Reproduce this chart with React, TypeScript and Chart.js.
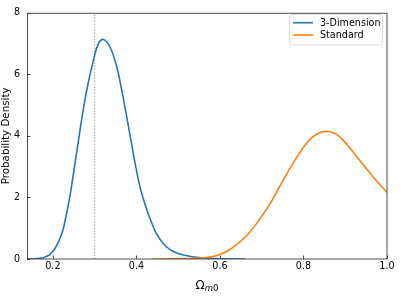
import React, { useEffect, useRef } from "react";
import { Chart, registerables } from "chart.js";

Chart.register(...registerables);

// 3-Dimension series
const blueX = [0.138, 0.155, 0.169, 0.181, 0.193, 0.205, 0.217, 0.225, 0.233, 0.241, 0.249, 0.261, 0.273, 0.285, 0.299, 0.309, 0.321, 0.337, 0.353, 0.362, 0.373, 0.385, 0.397, 0.409, 0.421, 0.433, 0.449, 0.469, 0.492, 0.524, 0.556, 0.59, 0.625, 0.66];
const blueY = [0.0, 0.005, 0.02, 0.06, 0.15, 0.34, 0.67, 0.99, 1.5, 2.06, 2.76, 3.83, 4.88, 5.75, 6.56, 7.0, 7.13, 6.88, 6.24, 5.68, 4.9, 4.0, 3.1, 2.32, 1.76, 1.3, 0.8, 0.43, 0.22, 0.1, 0.04, 0.015, 0.005, 0.0];

// Standard series
const orangeX = [0.437, 0.5, 0.552, 0.576, 0.6, 0.624, 0.648, 0.672, 0.696, 0.718, 0.744, 0.776, 0.808, 0.832, 0.856, 0.88, 0.904, 0.936, 0.968, 1.0];
const orangeY = [0.0, 0.005, 0.03, 0.06, 0.15, 0.31, 0.56, 0.88, 1.31, 1.75, 2.38, 3.13, 3.77, 4.06, 4.15, 4.04, 3.72, 3.18, 2.65, 2.16];

const refLineX = 0.3;
const xTicks = [0.2, 0.4, 0.6, 0.8, 1.0];
const yTicks = [0, 2, 4, 6, 8];
const seriesNames = ["3-Dimension", "Standard"];
const seriesColors = ["#1f77b4", "#ff7f0e"];
const yTitle = "Probability Density";
const xTitleMain = "Ω";
const xTitleSubItalic = "m";
const xTitleSub = "0";

const FONT = "'DejaVu Sans', sans-serif";
const FS = 9.6;
const FS_YTITLE = 10.3;

const decorPlugin = {
  id: "decor",
  afterDatasetsDraw(chart: any) {
    const { ctx, chartArea: a, scales } = chart;
    const xs = scales.x;
    const ys = scales.y;
    ctx.save();
    // frame
    ctx.strokeStyle = "#3a3a3a";
    ctx.lineWidth = 0.9;
    ctx.strokeRect(a.left + 0.5, a.top + 0.5, a.right - a.left - 0.5, a.bottom - a.top - 0.5);
    // inward ticks
    ctx.beginPath();
    xTicks.forEach((v) => {
      const px = Math.round(xs.getPixelForValue(v)) + 0.5;
      ctx.moveTo(px, a.bottom);
      ctx.lineTo(px, a.bottom - 3.5);
    });
    yTicks.forEach((v) => {
      const py = Math.round(ys.getPixelForValue(v)) + 0.5;
      ctx.moveTo(a.left, py);
      ctx.lineTo(a.left + 3.5, py);
    });
    ctx.stroke();

    // y title
    ctx.fillStyle = "#000";
    ctx.save();
    ctx.translate(6, (a.top + a.bottom) / 2);
    ctx.rotate(-Math.PI / 2);
    ctx.font = `${FS_YTITLE}px ${FONT}`;
    ctx.textAlign = "center";
    ctx.textBaseline = "middle";
    ctx.fillText(yTitle, 0, 0);
    ctx.restore();

    // x title (Omega with subscript m0)
    const mainFont = `12px ${FONT}`;
    const subItFont = `italic 8.5px ${FONT}`;
    const subFont = `8.5px ${FONT}`;
    ctx.font = mainFont;
    const w1 = ctx.measureText(xTitleMain).width;
    ctx.font = subItFont;
    const w2 = ctx.measureText(xTitleSubItalic).width;
    ctx.font = subFont;
    const w3 = ctx.measureText(xTitleSub).width;
    const total = w1 + w2 + w3;
    let cx = (a.left + a.right) / 2 - total / 2;
    ctx.textAlign = "left";
    ctx.textBaseline = "alphabetic";
    ctx.font = mainFont;
    ctx.fillText(xTitleMain, cx, 288.5);
    cx += w1;
    ctx.font = subItFont;
    ctx.fillText(xTitleSubItalic, cx, 290.5);
    cx += w2;
    ctx.font = subFont;
    ctx.fillText(xTitleSub, cx, 290.5);

    // legend
    const bx = 289.5, by = 14.5, bw = 93, bh = 30.5, r = 2.5;
    ctx.beginPath();
    ctx.moveTo(bx + r, by);
    ctx.lineTo(bx + bw - r, by);
    ctx.quadraticCurveTo(bx + bw, by, bx + bw, by + r);
    ctx.lineTo(bx + bw, by + bh - r);
    ctx.quadraticCurveTo(bx + bw, by + bh, bx + bw - r, by + bh);
    ctx.lineTo(bx + r, by + bh);
    ctx.quadraticCurveTo(bx, by + bh, bx, by + bh - r);
    ctx.lineTo(bx, by + r);
    ctx.quadraticCurveTo(bx, by, bx + r, by);
    ctx.closePath();
    ctx.fillStyle = "rgba(255,255,255,0.8)";
    ctx.fill();
    ctx.strokeStyle = "#d6d6d6";
    ctx.lineWidth = 0.8;
    ctx.stroke();

    const rows = [22.7, 35.0];
    seriesNames.forEach((name, i) => {
      ctx.strokeStyle = seriesColors[i];
      ctx.lineWidth = 1.6;
      ctx.beginPath();
      ctx.moveTo(293, rows[i]);
      ctx.lineTo(313, rows[i]);
      ctx.stroke();
      ctx.fillStyle = "#000";
      ctx.font = `${FS}px ${FONT}`;
      ctx.textAlign = "left";
      ctx.textBaseline = "middle";
      ctx.fillText(name, 320, rows[i] + 0.5);
    });
    ctx.restore();
  },
};

export default function App() {
  const ref = useRef<HTMLCanvasElement | null>(null);
  useEffect(() => {
    if (!ref.current) return;
    const chart = new Chart(ref.current, {
      type: "scatter",
      data: {
        datasets: [
          {
            label: seriesNames[1],
            data: orangeX.map((x, i) => ({ x, y: orangeY[i] })),
            showLine: true,
            borderColor: seriesColors[1],
            borderWidth: 1.6,
            pointRadius: 0,
            tension: 0.4,
            order: 0,
          },
          {
            label: seriesNames[0],
            data: blueX.map((x, i) => ({ x, y: blueY[i] })),
            showLine: true,
            borderColor: seriesColors[0],
            borderWidth: 1.6,
            pointRadius: 0,
            tension: 0.4,
            order: 1,
          },
          {
            label: "ref",
            data: [
              { x: refLineX, y: 0 },
              { x: refLineX, y: 8 },
            ],
            showLine: true,
            borderColor: "#777777",
            borderWidth: 0.7,
            borderDash: [1.5, 1.5],
            pointRadius: 0,
            order: 2,
          },
        ],
      } as any,
      options: {
        responsive: false,
        animation: false,
        layout: { padding: { top: 10, right: 20, left: 0, bottom: 0 } },
        plugins: {
          legend: { display: false },
          tooltip: { enabled: false },
          title: { display: false },
        },
        scales: {
          x: {
            type: "linear",
            min: 0.138,
            max: 1.0,
            grid: { display: false, drawTicks: false },
            border: { display: false },
            afterBuildTicks: (s: any) => {
              s.ticks = xTicks.map((v) => ({ value: v }));
            },
            afterFit: (s: any) => {
              s.height = 46;
            },
            ticks: {
              autoSkip: false,
              maxRotation: 0,
              padding: 2,
              color: "#000",
              font: { family: FONT, size: FS },
              callback: (v: any) => Number(v).toFixed(1),
            },
          },
          y: {
            type: "linear",
            min: 0,
            max: 8,
            grid: { display: false, drawTicks: false },
            border: { display: false },
            afterBuildTicks: (s: any) => {
              s.ticks = yTicks.map((v) => ({ value: v }));
            },
            afterFit: (s: any) => {
              s.width = 27;
            },
            ticks: {
              autoSkip: false,
              padding: 7,
              color: "#000",
              font: { family: FONT, size: FS },
              callback: (v: any) => String(v),
            },
          },
        },
      } as any,
      plugins: [decorPlugin],
    });
    return () => chart.destroy();
  }, []);
  return (
    <div style={{ position: "fixed", left: 0, top: 0, width: 407, height: 305, background: "#fff" }}>
      <canvas ref={ref} width={407} height={305} style={{ width: 407, height: 305, display: "block" }} />
    </div>
  );
}
